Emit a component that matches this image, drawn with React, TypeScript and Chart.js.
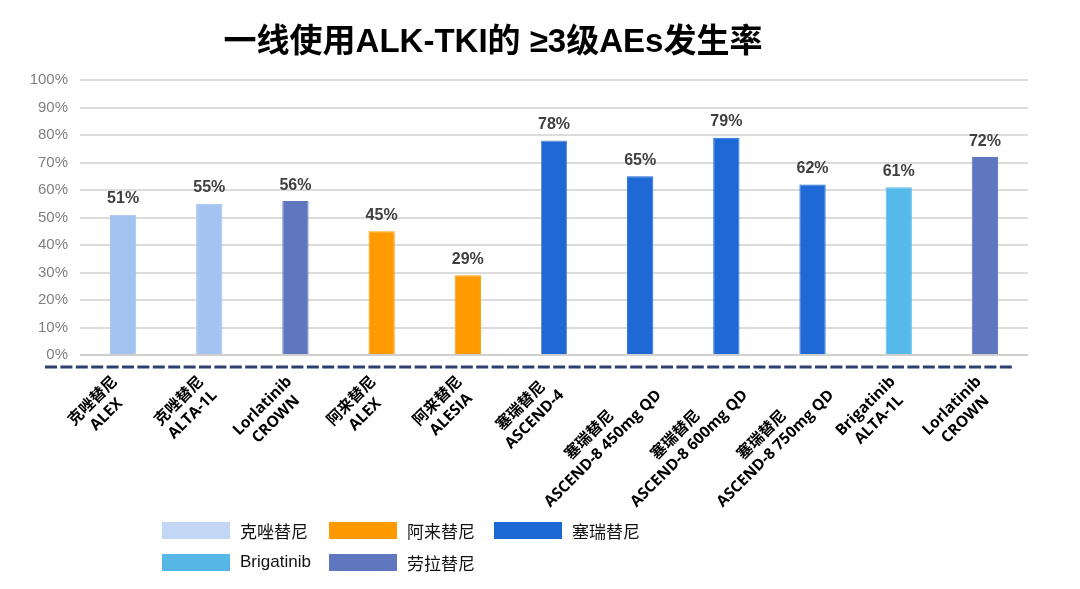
import React, { useEffect, useRef } from 'react';
import { Chart, registerables } from 'chart.js';

Chart.register(...registerables);

const titleText = '一线使用ALK-TKI的 ≥3级AEs发生率';

const categories: string[][] = [
  ['克唑替尼', 'ALEX'],
  ['克唑替尼', 'ALTA-1L'],
  ['Lorlatinib', 'CROWN'],
  ['阿来替尼', 'ALEX'],
  ['阿来替尼', 'ALESIA'],
  ['塞瑞替尼', 'ASCEND-4'],
  ['塞瑞替尼', 'ASCEND-8 450mg QD'],
  ['塞瑞替尼', 'ASCEND-8 600mg QD'],
  ['塞瑞替尼', 'ASCEND-8 750mg QD'],
  ['Brigatinib', 'ALTA-1L'],
  ['Lorlatinib', 'CROWN'],
];

const values: number[] = [51, 55, 56, 45, 29, 78, 65, 79, 62, 61, 72];

const drugOfBar: string[] = [
  '克唑替尼', '克唑替尼', '劳拉替尼', '阿来替尼', '阿来替尼',
  '塞瑞替尼', '塞瑞替尼', '塞瑞替尼', '塞瑞替尼', 'Brigatinib', '劳拉替尼',
];

const legendNames: string[] = ['克唑替尼', '阿来替尼', '塞瑞替尼', 'Brigatinib', '劳拉替尼'];
const barColors: Record<string, string> = {
  '克唑替尼': '#A4C3F0',
  '阿来替尼': '#FF9A00',
  '塞瑞替尼': '#1E69D6',
  'Brigatinib': '#57B9E9',
  '劳拉替尼': '#5F77BF',
};
const legendColors: Record<string, string> = {
  '克唑替尼': '#C3D7F4',
  '阿来替尼': '#FF9900',
  '塞瑞替尼': '#1C68D4',
  'Brigatinib': '#56B7E6',
  '劳拉替尼': '#6076BF',
};

const yTickValues: number[] = [0, 10, 20, 30, 40, 50, 60, 70, 80, 90, 100];

const labelFont = 'bold 15.5px "Open Sans", "Noto Sans CJK SC", sans-serif';

const extrasPlugin = {
  id: 'extras',
  afterDatasetsDraw(chart: any) {
    const ctx = chart.ctx;
    const meta = chart.getDatasetMeta(0);
    ctx.save();
    ctx.font = 'bold 16px "Liberation Sans", Arial, sans-serif';
    ctx.fillStyle = '#404040';
    ctx.textAlign = 'center';
    ctx.textBaseline = 'alphabetic';
    meta.data.forEach((bar: any, i: number) => {
      ctx.fillText(`${values[i]}%`, bar.x, bar.y - 11.5);
    });
    ctx.restore();
  },
  afterDraw(chart: any) {
    const ctx = chart.ctx;
    const area = chart.chartArea;
    const xScale = chart.scales.x;
    // dashed separator
    ctx.save();
    ctx.strokeStyle = '#2F3F6F';
    ctx.lineWidth = 3;
    ctx.setLineDash([12, 3.4]);
    ctx.beginPath();
    ctx.moveTo(area.left - 35, area.bottom + 12);
    ctx.lineTo(area.right - 13, area.bottom + 12);
    ctx.stroke();
    ctx.restore();

    // rotated category labels, centered lines
    ctx.save();
    ctx.font = labelFont;
    ctx.fillStyle = '#000000';
    ctx.textAlign = 'center';
    ctx.textBaseline = 'middle';
    const lh = 19;
    categories.forEach((lines, i) => {
      const tick = xScale.getPixelForValue(i);
      const W = Math.max(...lines.map((l) => ctx.measureText(l).width));
      const ax = tick - 10 + 0.28 * (W / 2);
      const ay = area.bottom + 31;
      ctx.save();
      ctx.translate(ax, ay);
      ctx.rotate(-Math.PI / 4);
      lines.forEach((ln, k) => {
        ctx.fillText(ln, -W / 2, (k - (lines.length - 1) / 2) * lh);
      });
      ctx.restore();
    });
    ctx.restore();
  },
};

export default function App() {
  const canvasRef = useRef<HTMLCanvasElement | null>(null);

  useEffect(() => {
    document.body.style.margin = '0';
    const canvas = canvasRef.current;
    if (!canvas) return;
    const chart = new Chart(canvas, {
      type: 'bar',
      data: {
        labels: categories.map((c) => c.join(' ')),
        datasets: [
          {
            data: values,
            backgroundColor: drugOfBar.map((d) => barColors[d]),
            borderColor: drugOfBar.map((d, i) => (i === 5 ? '#6E85B5' : barColors[d])),
            borderWidth: 1,
            categoryPercentage: 1,
            barPercentage: 0.305,
          },
        ],
      },
      options: {
        animation: false,
        responsive: true,
        maintainAspectRatio: false,
        layout: { padding: { top: 80, right: 52, left: 0, bottom: 0 } },
        plugins: {
          legend: { display: false },
          tooltip: { enabled: false },
          title: { display: false },
        },
        scales: {
          x: {
            grid: { display: false },
            border: { display: false },
            ticks: { display: false },
            afterFit: (scale: any) => {
              scale.height = 234;
            },
          },
          y: {
            min: 0,
            max: 100,
            afterBuildTicks: (scale: any) => {
              scale.ticks = yTickValues.map((v) => ({ value: v }));
            },
            ticks: {
              padding: 12,
              color: '#7F7F7F',
              font: { family: '"Liberation Sans", Arial, sans-serif', size: 15 },
              callback: (v: any) => `${v}%`,
            },
            grid: {
              color: (c: any) => (c.tick && c.tick.value === 0 ? '#CFCFCF' : '#DCDCDC'),
              lineWidth: 2,
              drawTicks: false,
            },
            border: { display: false },
            afterFit: (scale: any) => {
              scale.width = 80;
            },
          },
        },
      },
      plugins: [extrasPlugin],
    });
    return () => chart.destroy();
  }, []);

  return (
    <div style={{ position: 'absolute', left: 0, top: 0, width: 1080, height: 589, background: '#fff', overflow: 'hidden' }}>
      <div style={{ position: 'absolute', left: 0, top: 0, width: 1080, height: 589 }}>
        <canvas ref={canvasRef} />
      </div>
      <div
        style={{
          position: 'absolute',
          left: 0,
          width: 986,
          top: 22,
          height: 38,
          lineHeight: '38px',
          textAlign: 'center',
          fontFamily: '"Liberation Sans", "Noto Sans CJK SC", sans-serif',
          fontWeight: 'bold',
          fontSize: 33,
          color: '#000',
          whiteSpace: 'nowrap',
        }}
      >
        {titleText}
      </div>
      <div
        style={{
          position: 'absolute',
          left: 162,
          top: 514,
          display: 'grid',
          gridTemplateColumns: '167px 165px 180px',
          gridAutoRows: '32px',
          fontFamily: '"Liberation Sans", "Noto Sans CJK SC", sans-serif',
          fontSize: 17,
          color: '#111',
        }}
      >
        {legendNames.map((n) => (
          <div key={n} style={{ display: 'flex', alignItems: 'center', whiteSpace: 'nowrap' }}>
            <span style={{ display: 'inline-block', width: 68, height: 17, background: legendColors[n], marginRight: 10 }} />
            <span>{n}</span>
          </div>
        ))}
      </div>
    </div>
  );
}
